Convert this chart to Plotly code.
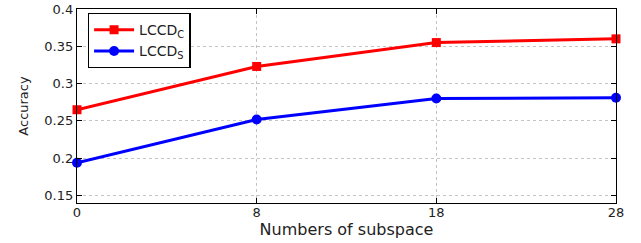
import plotly.graph_objects as go

subspace_labels = ["0", "8", "18", "28"]
positions = [0, 1, 2, 3]
lccd_c = [0.265, 0.323, 0.355, 0.360]
lccd_s = [0.194, 0.252, 0.280, 0.281]

FONT = "DejaVu Sans, Liberation Sans, Arial"

fig = go.Figure()
fig.add_trace(go.Scatter(x=positions, y=lccd_c, mode="lines+markers",
                         name="LCCD<sub>C</sub>",
                         line=dict(color="#ff0000", width=3),
                         marker=dict(symbol="square", size=9, color="#ff0000")))
fig.add_trace(go.Scatter(x=positions, y=lccd_s, mode="lines+markers",
                         name="LCCD<sub>S</sub>",
                         line=dict(color="#0000ff", width=3),
                         marker=dict(symbol="circle", size=10, color="#0000ff")))

axis_common = dict(showline=True, linecolor="black", linewidth=1.3, mirror="allticks",
                   ticks="inside", ticklen=5, tickcolor="black", tickwidth=1,
                   showgrid=True, gridcolor="#c4c4c4", griddash="dot", gridwidth=1,
                   zeroline=False, automargin=False,
                   tickfont=dict(family=FONT, size=13, color="#222222"))

fig.update_layout(
    width=641, height=243,
    margin=dict(l=77, r=25, t=9, b=40),
    paper_bgcolor="white", plot_bgcolor="white",
    font=dict(family=FONT, size=13, color="#222222"),
    showlegend=True,
    legend=dict(x=0.02, y=0.98, xanchor="left", yanchor="top",
                bordercolor="black", borderwidth=1.3, bgcolor="white",
                font=dict(size=14), tracegroupgap=0, itemwidth=40),
    xaxis=dict(axis_common, range=[0, 3], tickvals=positions, ticktext=subspace_labels,
               ticklabelstandoff=-3,
               title=dict(text="Numbers of subspace", standoff=0, font=dict(size=16))),
    yaxis=dict(axis_common, range=[0.14, 0.4],
               tickvals=[0.15, 0.2, 0.25, 0.3, 0.35, 0.4],
               ticktext=["0.15", "0.2", "0.25", "0.3", "0.35", "0.4"],
               title=dict(text="Accuracy", standoff=12, font=dict(size=13))),
)
for tr in fig.data:
    tr.cliponaxis = False

fig.write_html("out.html", config={"displayModeBar": False},
               post_script="document.body.style.margin='0';document.body.style.overflow='hidden';")
